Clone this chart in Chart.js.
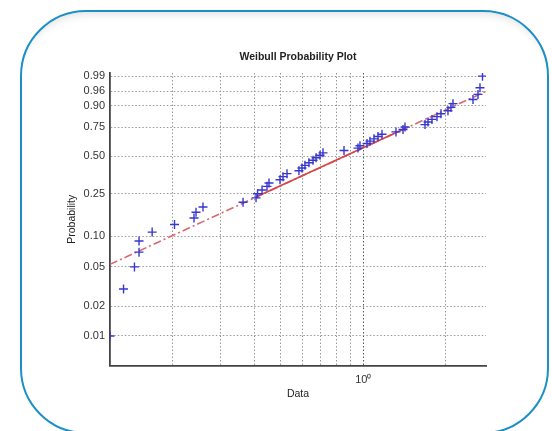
<!DOCTYPE html>
<html lang="en">
<head>
    <meta charset="UTF-8">
    <title>Weibull Probability Plot</title>
    <script src="https://cdn.jsdelivr.net/npm/chart.js"></script>
    <style>
        body {
            margin: 0;
            background: #fff;
            overflow: hidden;
            font-family: "Liberation Sans", Arial, sans-serif;
        }
        .frame {
            position: absolute;
            left: 20px;
            top: 10px;
            width: 525px;
            height: 420px;
            border: 2.5px solid #1b8fc6;
            border-radius: 66px;
            box-shadow: inset 0 9px 10px -7px rgba(0, 0, 0, 0.13);
        }
        #probChart {
            position: absolute;
            left: 0;
            top: 0;
        }
    </style>
</head>
<body>
    <div class="frame"></div>
    <canvas id="probChart" width="552" height="431"></canvas>

    <script>
        // sorted sample values (x) and their plotting probabilities (y)
        var dataX = [0.1185, 0.1328, 0.1456, 0.1513, 0.1513, 0.1690, 0.2040, 0.2404, 0.2445, 0.2593,
                     0.3633, 0.4053, 0.4105, 0.4263, 0.4445, 0.4520, 0.4959, 0.5086, 0.5260, 0.5818,
                     0.5967, 0.6119, 0.6326, 0.6548, 0.6717, 0.6945, 0.7122, 0.8500, 0.9563, 0.9725,
                     1.0316, 1.0580, 1.0942, 1.1317, 1.1704, 1.3166, 1.3970, 1.4207, 1.6812, 1.7241,
                     1.7830, 1.8597, 1.9233, 2.0400, 2.0922, 2.1281, 2.5183, 2.6269, 2.6714, 2.7280];
        var dataP = [0.01, 0.03, 0.05, 0.07, 0.09, 0.11, 0.13, 0.15, 0.17, 0.19,
                     0.21, 0.23, 0.25, 0.27, 0.29, 0.31, 0.33, 0.35, 0.37, 0.39,
                     0.41, 0.43, 0.45, 0.47, 0.49, 0.51, 0.53, 0.55, 0.57, 0.59,
                     0.61, 0.63, 0.65, 0.67, 0.69, 0.71, 0.73, 0.75, 0.77, 0.79,
                     0.81, 0.83, 0.85, 0.87, 0.89, 0.91, 0.93, 0.95, 0.97, 0.99];

        // reference line: dash-dot over the full range, solid between the quartiles
        var fitX = [0.1185, 2.81];
        var fitP = [0.053, 0.960];
        var quartX = [0.405, 1.42];
        var quartP = [0.234, 0.738];

        // axis ticks
        var probTicks = [0.01, 0.02, 0.05, 0.10, 0.25, 0.50, 0.75, 0.90, 0.96, 0.99];
        var xGrid = [0.2, 0.3, 0.4, 0.5, 0.6, 0.7, 0.8, 0.9, 1, 2];

        function toPoints(xs, ps) {
            return xs.map(function (x, i) { return { x: x, y: ps[i] }; });
        }

        // Weibull probability axis: pixel position follows log(-log(1-p))
        function wb(p) { return Math.log(-Math.log(1 - p)); }

        class WeibullScale extends Chart.LinearScale {
            determineDataLimits() {
                this.min = this.options.min;
                this.max = this.options.max;
            }
            buildTicks() {
                return probTicks.map(function (v) { return { value: v }; });
            }
            configure() {
                super.configure();
                this._wMin = wb(this.min);
                this._wMax = wb(this.max);
            }
            getPixelForValue(value) {
                return this.getPixelForDecimal((wb(value) - this._wMin) / (this._wMax - this._wMin));
            }
            getValueForPixel(pixel) {
                var w = this._wMin + this.getDecimalForPixel(pixel) * (this._wMax - this._wMin);
                return 1 - Math.exp(-Math.exp(w));
            }
        }
        WeibullScale.id = 'weibull';
        WeibullScale.defaults = {};
        Chart.register(WeibullScale);

        var gridDash = [1.5, 2];
        var fontFam = '"Liberation Sans", Arial, sans-serif';

        var ctx = document.getElementById('probChart').getContext('2d');
        var probChart = new Chart(ctx, {
            type: 'scatter',
            data: {
                datasets: [
                    {
                        label: 'Data',
                        data: toPoints(dataX, dataP),
                        pointStyle: 'cross',
                        pointRadius: 4.5,
                        pointBorderWidth: 1.4,
                        borderColor: 'rgb(55, 55, 205)',
                        backgroundColor: 'rgb(55, 55, 205)'
                    },
                    {
                        label: 'Quartile fit',
                        data: toPoints(quartX, quartP),
                        showLine: true,
                        pointRadius: 0,
                        borderColor: 'rgb(215, 70, 70)',
                        borderWidth: 1.6
                    },
                    {
                        label: 'Fit',
                        data: toPoints(fitX, fitP),
                        showLine: true,
                        pointRadius: 0,
                        borderColor: 'rgb(215, 105, 115)',
                        borderWidth: 1.6,
                        borderDash: [8, 3, 2, 3]
                    }
                ]
            },
            options: {
                responsive: false,
                animation: false,
                layout: {
                    padding: { left: 0, right: 66, top: 0, bottom: 0 }
                },
                plugins: {
                    legend: { display: false },
                    tooltip: { enabled: false },
                    title: {
                        display: true,
                        fullSize: false,
                        text: 'Weibull Probability Plot',
                        color: '#222',
                        font: { family: fontFam, size: 10.5, weight: 'bold' },
                        padding: { top: 50.7, bottom: 9.7 }
                    }
                },
                scales: {
                    x: {
                        type: 'logarithmic',
                        min: 0.1185,
                        max: 2.81,
                        afterBuildTicks: function (scale) {
                            scale.ticks = xGrid.map(function (v) { return { value: v }; });
                        },
                        afterFit: function (scale) { scale.height = 65.5; },
                        ticks: {
                            autoSkip: false,
                            maxRotation: 0,
                            padding: 8,
                            color: '#333',
                            font: { family: fontFam, size: 11 },
                            callback: function (value) { return value === 1 ? '10\u2070' : ''; }
                        },
                        grid: {
                            drawTicks: false,
                            color: function (c) {
                                return c.tick && c.tick.value === 1 ? '#555' : '#999';
                            }
                        },
                        border: { display: true, color: '#444', width: 1.8, dash: gridDash },
                        title: {
                            display: true,
                            text: 'Data',
                            color: '#222',
                            font: { family: fontFam, size: 10.5 },
                            padding: { top: 0, bottom: 30.2 }
                        }
                    },
                    y: {
                        type: 'weibull',
                        min: 0.005,
                        max: 0.993,
                        afterFit: function (scale) { scale.width = 110; },
                        ticks: {
                            autoSkip: false,
                            padding: 5,
                            color: '#333',
                            font: { family: fontFam, size: 11 },
                            callback: function (value) { return Number(value).toFixed(2); }
                        },
                        grid: { drawTicks: false, color: '#999' },
                        border: { display: true, color: '#444', width: 1.8, dash: gridDash },
                        title: {
                            display: true,
                            text: 'Probability',
                            color: '#222',
                            font: { family: fontFam, size: 10.5 },
                            padding: { top: 66, bottom: 0 }
                        }
                    }
                }
            }
        });
    </script>
</body>
</html>
